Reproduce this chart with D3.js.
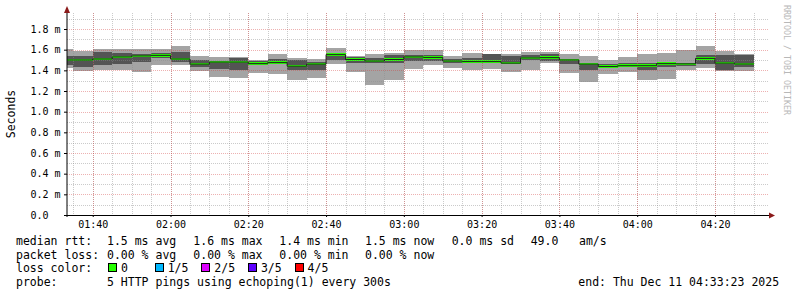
<!DOCTYPE html>
<html>
<head>
<meta charset="utf-8">
<script src="https://cdn.jsdelivr.net/npm/d3@7"></script>
<style>
  html, body { margin: 0; padding: 0; background: #fff; }
  svg { display: block; }
  text { font-family: "DejaVu Sans Mono", monospace; white-space: pre; }
</style>
</head>
<body>
<svg width="797" height="297"></svg>
<script>
// 5 minute steps, time = end of interval
var times = ["01:35","01:40","01:45","01:50","01:55","02:00","02:05","02:10","02:15","02:20",
             "02:25","02:30","02:35","02:40","02:45","02:50","02:55","03:00","03:05","03:10",
             "03:15","03:20","03:25","03:30","03:35","03:40","03:45","03:50","03:55","04:00",
             "04:05","04:10","04:15","04:20","04:25","04:30"];
// sorted pings (ms): lowest, 2nd, median, 4th, highest
var pingMin = [1.42,1.39,1.40,1.40,1.38,1.45,1.455,1.39,1.34,1.33,1.37,1.36,1.31,1.33,1.465,1.385,1.26,1.305,
               1.41,1.455,1.425,1.405,1.41,1.385,1.40,1.475,1.377,1.29,1.36,1.387,1.306,1.316,1.405,1.418,1.39,1.397];
var pingLow = [1.45,1.43,1.45,1.46,1.485,1.52,1.48,1.435,1.415,1.40,1.45,1.46,1.40,1.40,1.50,1.475,1.47,1.475,
               1.495,1.49,1.47,1.47,1.47,1.46,1.50,1.49,1.465,1.405,1.418,1.43,1.405,1.43,1.44,1.458,1.405,1.43];
var median  = [1.50,1.50,1.51,1.53,1.54,1.545,1.51,1.46,1.48,1.48,1.465,1.475,1.44,1.46,1.552,1.505,1.49,1.505,
               1.53,1.525,1.49,1.485,1.485,1.47,1.52,1.523,1.50,1.46,1.437,1.445,1.445,1.465,1.463,1.516,1.47,1.461];
var pingHigh = [1.54,1.54,1.58,1.57,1.56,1.57,1.58,1.50,1.495,1.515,1.49,1.51,1.50,1.48,1.556,1.525,1.52,1.55,
                1.55,1.545,1.51,1.515,1.555,1.54,1.55,1.56,1.505,1.47,1.458,1.474,1.468,1.482,1.475,1.545,1.545,1.552];
var pingMax = [1.61,1.59,1.605,1.605,1.605,1.605,1.64,1.54,1.53,1.525,1.50,1.56,1.52,1.51,1.615,1.54,1.56,1.57,
               1.595,1.597,1.54,1.57,1.56,1.56,1.575,1.575,1.56,1.54,1.50,1.53,1.558,1.571,1.597,1.635,1.59,1.556];

var yMajor = [0, 0.2, 0.4, 0.6, 0.8, 1.0, 1.2, 1.4, 1.6, 1.8];
var yMinor = [0.1, 0.3, 0.5, 0.7, 0.9, 1.1, 1.3, 1.5, 1.7, 1.9];

var rttLegend  = ["1.5 ms avg", "1.6 ms max", "1.4 ms min", "1.5 ms now", "0.0 ms sd", "49.0", "am/s"];
var lossLegend = ["0.00 % avg", "0.00 % max", "0.00 % min", "0.00 % now"];
var lossLabels = ["0", "1/5", "2/5", "3/5", "4/5"];
var lossColors = ["#26ff00", "#00b8ff", "#dd00ff", "#5e00ff", "#ff0000"];
var probeText = "5 HTTP pings using echoping(1) every 300s";
var endText = "end: Thu Dec 11 04:33:23 2025";

var day = "2025-12-11 ";
var parse = d3.utcParse("%Y-%m-%d %H:%M:%S");
var start = parse(day + "01:33:23"),
    end = parse(day + "04:33:23");
var data = times.map(function(t, i) {
  return {t: parse(day + t + ":00"), min: pingMin[i], low: pingLow[i], med: median[i], high: pingHigh[i], max: pingMax[i]};
});

var svg = d3.select("svg"),
    pLeft = 67, pRight = 767, pTop = 13, pBottom = 215;

var x = d3.scaleUtc().domain([start, end]).range([pLeft, pRight]);
var y = d3.scaleLinear().domain([0, 1.955]).range([pBottom, pTop]);

svg.append("rect").attr("width", 797).attr("height", 297).attr("fill", "#fff");

function x0(d) { return x(Math.max(+start, +d3.utcMinute.offset(d.t, -5))); }

var g = svg.append("g").attr("shape-rendering", "crispEdges");

// smoke: outer pings light, inner pings dark
g.selectAll(".outer").data(data).enter().append("rect")
    .attr("x", x0)
    .attr("width", function(d) { return x(d.t) - x0(d); })
    .attr("y", function(d) { return y(d.max); })
    .attr("height", function(d) { return y(d.min) - y(d.max); })
    .attr("fill", "#a4a4a4");

g.selectAll(".inner").data(data).enter().append("rect")
    .attr("x", x0)
    .attr("width", function(d) { return x(d.t) - x0(d); })
    .attr("y", function(d) { return y(d.high); })
    .attr("height", function(d) { return y(d.low) - y(d.high); })
    .attr("fill", "#545454");

// grid
var grid = svg.append("g").attr("stroke-dasharray", "1,1").attr("shape-rendering", "crispEdges");
var vMinor = x.ticks(d3.utcMinute.every(5)), vMajor = x.ticks(d3.utcMinute.every(20));

grid.selectAll(".vmin").data(vMinor).enter().append("line")
    .attr("x1", function(d) { return Math.round(x(d)) + 0.5; })
    .attr("x2", function(d) { return Math.round(x(d)) + 0.5; })
    .attr("y1", pTop).attr("y2", pBottom)
    .attr("stroke", "rgba(140,140,140,0.45)");
grid.selectAll(".hmin").data(yMinor).enter().append("line")
    .attr("x1", pLeft).attr("x2", pRight + 1)
    .attr("y1", function(d) { return Math.round(y(d)) + 0.5; })
    .attr("y2", function(d) { return Math.round(y(d)) + 0.5; })
    .attr("stroke", "rgba(140,140,140,0.45)");
grid.selectAll(".vmaj").data(vMajor).enter().append("line")
    .attr("x1", function(d) { return Math.round(x(d)) + 0.5; })
    .attr("x2", function(d) { return Math.round(x(d)) + 0.5; })
    .attr("y1", pTop).attr("y2", pBottom)
    .attr("stroke", "rgba(210,60,60,0.4)");
grid.selectAll(".hmaj").data(yMajor.slice(1)).enter().append("line")
    .attr("x1", pLeft).attr("x2", pRight + 1)
    .attr("y1", function(d) { return Math.round(y(d)) + 0.5; })
    .attr("y2", function(d) { return Math.round(y(d)) + 0.5; })
    .attr("stroke", "rgba(210,60,60,0.4)");

// median line + loss coloured band
var medLine = d3.line()
    .x(function(d) { return x(d.t); })
    .y(function(d) { return y(d.med); })
    .curve(d3.curveStepBefore);
svg.append("path")
    .datum([{t: start, med: median[0]}].concat(data))
    .attr("fill", "none").attr("stroke", "#202020").attr("stroke-width", 1)
    .attr("d", medLine);

g.selectAll(".med").data(data).enter().append("rect")
    .attr("x", x0)
    .attr("width", function(d) { return x(d.t) - x0(d); })
    .attr("y", function(d) { return y(d.med) - 1.2; })
    .attr("height", 2.4)
    .attr("fill", lossColors[0]);

// axes
svg.append("line").attr("x1", pLeft).attr("x2", pLeft).attr("y1", pBottom + 2).attr("y2", 8)
    .attr("stroke", "#000");
svg.append("line").attr("x1", pLeft - 2).attr("x2", pRight + 3).attr("y1", pBottom + 0.5).attr("y2", pBottom + 0.5)
    .attr("stroke", "#000");
svg.append("path").attr("d", "M" + (pLeft - 3) + ",13L" + (pLeft + 3) + ",13L" + pLeft + ",6Z").attr("fill", "#8b1a1a");
svg.append("path").attr("d", "M" + (pRight + 2) + "," + (pBottom - 2.5) + "L" + (pRight + 2) + "," + (pBottom + 3.5) + "L" + (pRight + 8) + "," + (pBottom + 0.5) + "Z").attr("fill", "#8b1a1a");

var yAxis = svg.append("g")
    .attr("transform", "translate(" + pLeft + ",0)")
    .call(d3.axisLeft(y).tickValues(yMajor).tickSize(3).tickFormat(function(d) {
      return d === 0 ? "0.0" : d3.format(".1f")(d) + " m";
    }));
yAxis.select(".domain").remove();
yAxis.selectAll("line").attr("stroke", "#000");
yAxis.selectAll("text")
    .attr("x", -36.5).attr("text-anchor", "start")
    .attr("font-family", "DejaVu Sans Mono").attr("font-size", 10).attr("fill", "#000");

var xAxis = svg.append("g")
    .attr("transform", "translate(0," + pBottom + ")")
    .call(d3.axisBottom(x).ticks(d3.utcMinute.every(20)).tickSize(2).tickFormat(d3.utcFormat("%H:%M")));
xAxis.select(".domain").remove();
xAxis.selectAll("line").attr("stroke", "#000");
xAxis.selectAll("text")
    .attr("y", 12.5).attr("dy", null)
    .attr("font-family", "DejaVu Sans Mono").attr("font-size", 10).attr("fill", "#000");

// titles
svg.append("text").attr("transform", "translate(15,114) rotate(-90)")
    .attr("text-anchor", "middle").attr("font-size", 11.5).text("Seconds");
svg.append("text").attr("transform", "translate(784,5) rotate(90)")
    .attr("font-size", 8.3).attr("fill", "#b8b8b8").text("RRDTOOL / TOBI OETIKER");

// legend
var leg = svg.append("g").attr("font-size", 11.5).attr("fill", "#000");
var colX = [107, 193.3, 279.3, 365, 451.7, 530.7, 579];
leg.append("text").attr("x", 16).attr("y", 245).text("median rtt:");
leg.selectAll(".rtt").data(rttLegend).enter().append("text")
    .attr("x", function(d, i) { return colX[i]; }).attr("y", 245).text(function(d) { return d; });
leg.append("text").attr("x", 16).attr("y", 258.7).text("packet loss:");
leg.selectAll(".loss").data(lossLegend).enter().append("text")
    .attr("x", function(d, i) { return colX[i]; }).attr("y", 258.7).text(function(d) { return d; });
leg.append("text").attr("x", 16).attr("y", 272.4).text("loss color:");
var sw = leg.selectAll(".sw").data(lossLabels).enter().append("g")
    .attr("transform", function(d, i) { return "translate(" + (108 + i * 46.65) + ",263)"; });
sw.append("rect").attr("x", 0.5).attr("y", 0.5).attr("width", 8).attr("height", 8)
    .attr("fill", function(d, i) { return lossColors[i]; })
    .attr("stroke", "#000").attr("shape-rendering", "crispEdges");
sw.append("text").attr("x", 13).attr("y", 9.4)
    .text(function(d) { return d; });
leg.append("text").attr("x", 16).attr("y", 286.1).text("probe:");
leg.append("text").attr("x", 107).attr("y", 286.1).text(probeText);
leg.append("text").attr("x", 578.3).attr("y", 286.1).text(endText);
</script>
</body>
</html>
